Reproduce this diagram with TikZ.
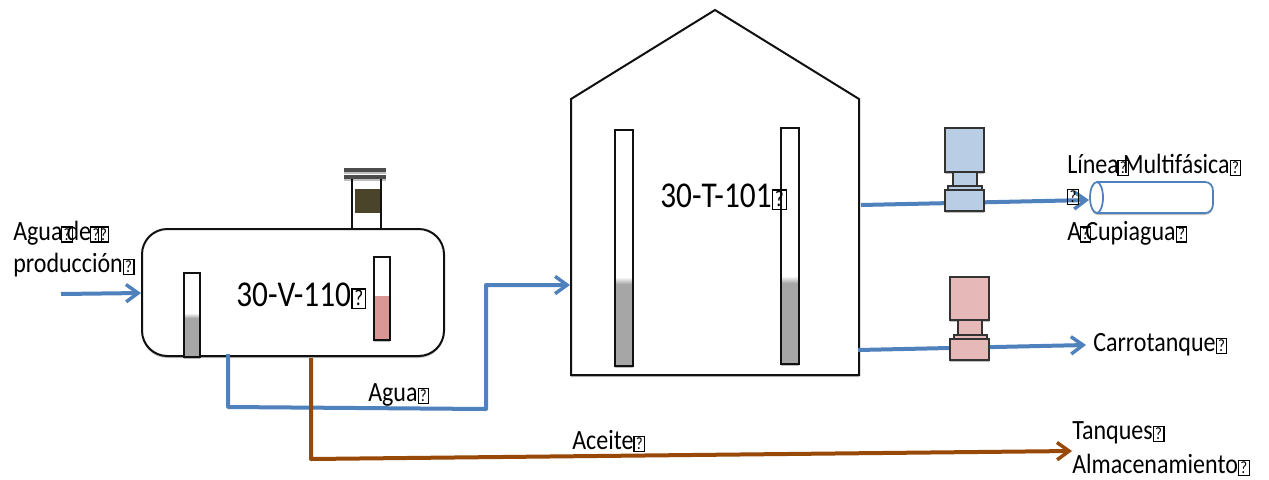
\documentclass[tikz,border=0pt]{standalone}
\usepackage{fontspec}
\usepackage{graphicx}
\setmainfont{Carlito}
\usetikzlibrary{shadows,arrows.meta,fit}
\definecolor{flowblue}{HTML}{4F81BD}
\definecolor{oilbrown}{HTML}{984807}
\definecolor{pumpblue}{HTML}{B9CDE5}
\definecolor{pumppink}{HTML}{E6B9B8}
\definecolor{levelgray}{HTML}{A6A6A6}
\definecolor{levelpink}{HTML}{D99694}
\definecolor{darkolive}{HTML}{4A452A}
\definecolor{edgeblack}{HTML}{111111}
\newcommand\tofu{\raisebox{-.02em}{\setlength\fboxsep{.02em}\setlength\fboxrule{.045em}\fbox{\makebox[.36em]{\raisebox{.03em}{\scalebox{.62}{?}}}}}}
\newcommand\tofuin{\kern-.06em\tofu\kern-.26em}
\newcommand\tall[1]{\scalebox{1}[1.16]{#1}}
% \bx{name}{x1}{y1}{x2}{y2}{style}
\newcommand\bx[6]{%
  \pgfmathsetmacro\bxw{(#4-#2)*0.75}%
  \pgfmathsetmacro\bxh{(#5-#3)*0.75}%
  \node[minimum width=\bxw pt,minimum height=\bxh pt,inner sep=0pt,outer sep=0pt,#6]
    (#1) at ({(#2+#4)/2},{(#3+#5)/2}) {};}
\tikzset{
  x=0.75pt,y=-0.75pt,
  softshadow/.style={drop shadow={shadow xshift=0pt,shadow yshift=-1.5pt,opacity=.25,fill=black}},
  outline/.style={draw=edgeblack,line width=1.5pt},
  gauge/.style={outline,softshadow,fill=white},
  pumppart/.style={draw=black!80,line width=1.4pt,softshadow},
  flow/.style={draw=flowblue,line width=3pt,-{Straight Barb[length=9pt,width=13pt,line width=2.6pt]}},
  oil/.style={draw=oilbrown,line width=3pt,-{Straight Barb[length=9pt,width=13pt,line width=2.6pt]}},
  lbl/.style={anchor=west,inner sep=0pt,font=\fontsize{18pt}{20pt}\selectfont,text=black},
  tag/.style={anchor=west,inner sep=0pt,font=\fontsize{23.5pt}{28pt}\selectfont,text=black},
}
\begin{document}
\begin{tikzpicture}
\useasboundingbox (0,0) rectangle (1269,479);
\fill[white] (0,0) rectangle (1269,479);

% Tank
\draw[outline,softshadow,fill=white,line join=miter] (571,99) -- (715,10) -- (859,99) -- (859,375) -- (571,375) -- cycle;
\coordinate (tankin) at (570,285);
\coordinate (tankoutA) at (861,205);
\coordinate (tankoutB) at (858,350);

% Tank gauges
\bx{tg1}{615}{130}{633}{366}{gauge}
\fill[levelgray] (616,284) rectangle (632,365);
\shade[top color=white,bottom color=levelgray] (616,277) rectangle (632,284);
\draw[outline] (615,130) rectangle (633,366);
\bx{tg2}{781}{128}{799}{364}{gauge}
\fill[levelgray] (782,283) rectangle (798,363);
\shade[top color=white,bottom color=levelgray] (782,276) rectangle (798,283);
\draw[outline] (781,128) rectangle (799,364);
\node[tag] (tanktag) at (660,197) {\tall{30-T-101\tofu}};

% Top nozzle of the separator
\bx{nozzle}{352}{178}{381}{230}{gauge}
\bx{nozfill}{355}{189}{381}{213}{fill=darkolive}
\draw[outline] (352,178) rectangle (381,230);
\bx{bar1}{344}{168}{386}{172}{fill=black!70,softshadow}
\bx{bar2}{344}{175}{386}{179}{fill=black!70,softshadow}

% Separator
\bx{vessel}{142}{229}{444}{356}{outline,softshadow,fill=white,rounded corners=19pt}
\coordinate (vesselin) at (141,293);
\coordinate (waterout) at (228,354);
\coordinate (oilout) at (311,358);

% Separator gauges
\bx{vg1}{184}{273}{200}{357}{gauge}
\fill[levelgray] (185,318) rectangle (199,356);
\shade[top color=white,bottom color=levelgray] (185,313) rectangle (199,318);
\draw[outline] (184,273) rectangle (200,357);
\bx{vg2}{374}{257}{390}{340}{gauge}
\fill[levelpink] (375,296) rectangle (389,339);
\draw[outline] (374,257) rectangle (390,340);
\node[tag] (vesseltag) at (236,296) {\tall{30-V-110\tofu}};

% Flows
\coordinate (feed) at (61,294);
\draw[flow] (feed) -- (vesselin);
\coordinate (w1) at (228,407);
\coordinate (w2) at (486,409);
\coordinate (w3) at (486,285);
\draw[flow,line join=round] (waterout) -- (w1) -- (w2) -- (w3) -- (tankin);
\coordinate (o1) at (311,459);
\coordinate (tanksink) at (1072,451);
\draw[oil,line join=round] (oilout) -- (o1) -- (tanksink);

% Multiphase line cylinder
\draw[flowblue,line width=1.3pt,fill=white,softshadow]
  (1097,182) -- (1205,182)
  .. controls (1210,182) and (1213,186) .. (1213,191)
  -- (1213,204)
  .. controls (1213,209) and (1210,213) .. (1205,213)
  -- (1097,213)
  .. controls (1093,213) and (1090,206) .. (1090,197.5)
  .. controls (1090,189) and (1093,182) .. (1097,182) -- cycle;
\draw[flowblue,line width=1.3pt] (1097,182) .. controls (1100,182) and (1103,189) .. (1103,197.5) .. controls (1103,206) and (1100,213) .. (1097,213);
\coordinate (cylin) at (1089,200);
\draw[flow] (tankoutA) -- (cylin);
\coordinate (truck) at (1086,345);
\draw[flow] (tankoutB) -- (truck);

% Blue pump
\bx{pbtop}{945}{128}{984}{172}{pumppart,fill=pumpblue}
\bx{pbneck}{953}{172}{977}{186}{pumppart,fill=pumpblue}
\bx{pbflange}{948}{186}{982}{190}{pumppart,fill=pumpblue}
\bx{pbbase}{945}{190}{984}{211}{pumppart,fill=pumpblue}
% Pink pump
\bx{pptop}{950}{277}{989}{320}{pumppart,fill=pumppink}
\bx{ppneck}{958}{320}{982}{335}{pumppart,fill=pumppink}
\bx{ppflange}{954}{335}{987}{339}{pumppart,fill=pumppink}
\bx{ppbase}{950}{339}{989}{360}{pumppart,fill=pumppink}

% Labels
\node[lbl] (l1) at (13,233) {\tall{Agua\tofuin de\kern-.04em\tofu\kern-.18em\tofu}};
\node[lbl] (l2) at (13,265) {\tall{producción\tofu}};
\node[lbl] (l3) at (368,395) {\tall{Agua\tofu}};
\node[lbl] (l4) at (572,441) {\tall{Aceite\tofu}};
\node[lbl] (l5) at (1067,165) {\tall{Línea\tofuin Multifásica\tofu}};
\node[lbl] (l6) at (1067,197) {\tall{\tofu}};
\node[lbl] (l7) at (1067,233) {\tall{A\tofuin Cupiagua\tofu}};
\node[lbl] (l8) at (1093,345) {\tall{Carrotanque\tofu}};
\node[lbl] (l9) at (1072,433) {\tall{Tanques\tofu}};
\node[lbl] (l10) at (1072,465) {\tall{Almacenamiento\tofu}};
\end{tikzpicture}
\end{document}
